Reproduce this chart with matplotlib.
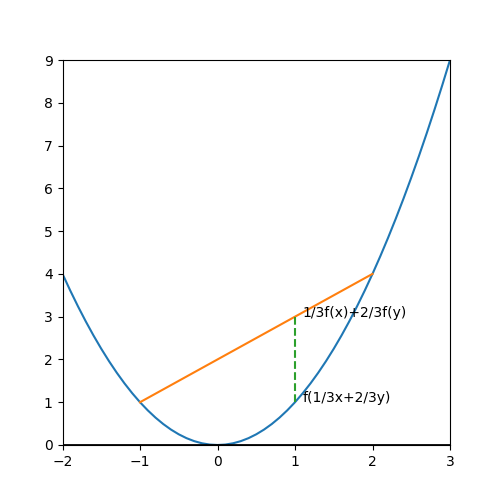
import numpy as np
import matplotlib
matplotlib.use("Agg")
import matplotlib.pyplot as plt

# parabola sampled on a grid from -2 to 3 (step 0.1)
x_vals = np.linspace(-2, 3, 51)
y_vals = [4.00, 3.61, 3.24, 2.89, 2.56, 2.25, 1.96, 1.69, 1.44, 1.21,
          1.00, 0.81, 0.64, 0.49, 0.36, 0.25, 0.16, 0.09, 0.04, 0.01,
          0.00, 0.01, 0.04, 0.09, 0.16, 0.25, 0.36, 0.49, 0.64, 0.81,
          1.00, 1.21, 1.44, 1.69, 1.96, 2.25, 2.56, 2.89, 3.24, 3.61,
          4.00, 4.41, 4.84, 5.29, 5.76, 6.25, 6.76, 7.29, 7.84, 8.41,
          9.00]

# chord between f(x) and f(y)
chord_x = [-1, 2]
chord_y = [1, 4]

# vertical gap at 1/3x + 2/3y
gap_x = [1, 1]
gap_y = [1, 3]

label_top = "1/3f(x)+2/3f(y)"
label_bottom = "f(1/3x+2/3y)"

fig, ax = plt.subplots(figsize=(5, 5), dpi=100)

ax.plot(x_vals, y_vals)
ax.plot(chord_x, chord_y)
ax.plot(gap_x, gap_y, linestyle="--")
ax.axhline(0, color="black", linewidth=2)

ax.text(gap_x[0] + 0.1, gap_y[1], label_top)
ax.text(gap_x[0] + 0.1, gap_y[0], label_bottom)

ax.set_xlim(-2, 3)
ax.set_ylim(0, 9)

fig.savefig("out.png")
